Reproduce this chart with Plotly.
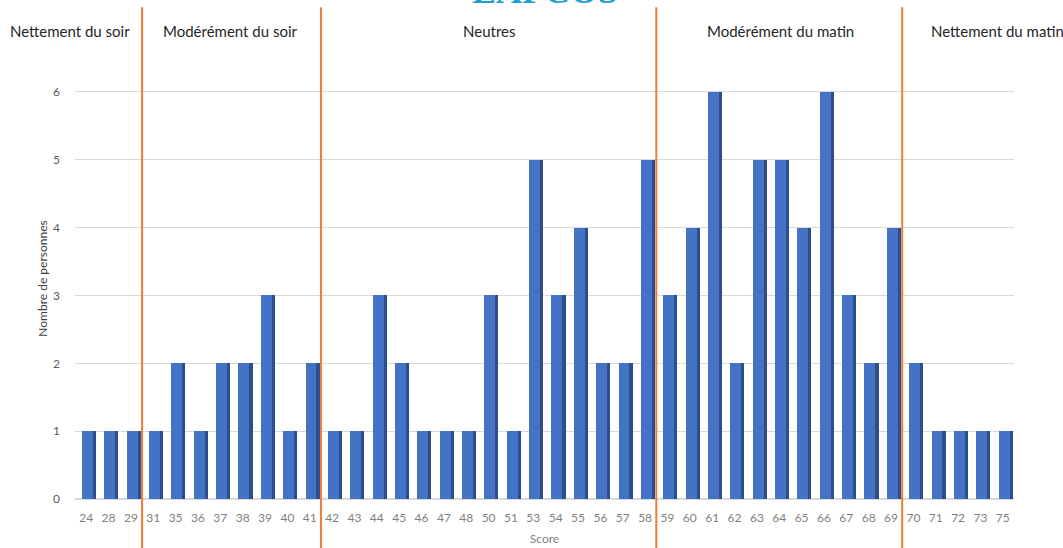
import plotly.graph_objects as go

# Score distribution (number of people per score)
scores = [24, 28, 29, 31, 35, 36, 37, 38, 39, 40, 41, 42, 43, 44, 45, 46, 47, 48, 50, 51,
          53, 54, 55, 56, 57, 58, 59, 60, 61, 62, 63, 64, 65, 66, 67, 68, 69, 70, 71, 72, 73, 75]
counts = [1, 1, 1, 1, 2, 1, 2, 2, 3, 1, 2, 1, 1, 3, 2, 1, 1, 1, 3, 1,
          5, 3, 4, 2, 2, 5, 3, 4, 6, 2, 5, 5, 4, 6, 3, 2, 4, 2, 1, 1, 1, 1]

# Chronotype groups: label and the first score of each group
groups = ["Nettement du soir", "Modérément du soir", "Neutres",
          "Modérément du matin", "Nettement du matin"]
group_starts = [24, 31, 42, 59, 70]

pos = list(range(len(scores)))
labels = [str(s) for s in scores]

FRONT = "#4472C4"
SIDE = "#2B4E8C"

fig = go.Figure()
# side face of the 3D columns
fig.add_trace(go.Bar(x=pos, y=counts, width=0.14, offset=0.30,
                     marker=dict(color=SIDE, line=dict(width=0)),
                     hoverinfo="skip", showlegend=False))
# front face
fig.add_trace(go.Bar(x=pos, y=counts, width=0.49, offset=-0.19,
                     marker=dict(color=FRONT, line=dict(width=0)),
                     showlegend=False))

# group separators
starts_idx = [scores.index(s) for s in group_starts]
for idx in starts_idx[1:]:
    fig.add_shape(type="line", xref="x", yref="paper",
                  x0=idx - 0.5, x1=idx - 0.5, y0=-0.12, y1=1.115,
                  line=dict(color="#ED7D31", width=2))

# group labels above the plot
label_x = [-0.005, 0.166, 0.441, 0.751, 0.982]
for name, lx in zip(groups, label_x):
    fig.add_annotation(x=lx, y=1.062, xref="paper", yref="paper", text=name,
                       showarrow=False, xanchor="center", yanchor="middle",
                       font=dict(family="Lato, sans-serif", size=15, color="#262626"))

# chart title, partly above the page edge
fig.add_annotation(x=0.5, y=1.102, xref="paper", yref="paper", text="<b>EAPCOS</b>",
                   showarrow=False, xanchor="center", yanchor="bottom",
                   font=dict(family="Liberation Serif, serif", size=36, color="#1E9FD0"))

fig.update_layout(
    width=1063, height=548,
    margin=dict(l=75, r=49, t=58, b=49),
    plot_bgcolor="white", paper_bgcolor="white",
    barmode="overlay",
    bargap=0,
    font=dict(family="Lato, sans-serif", color="#595959"),
    xaxis=dict(range=[-0.5, len(scores) - 0.5], tickmode="array", tickvals=pos,
               ticktext=labels, showgrid=False, zeroline=False, showline=False,
               automargin=False,
               ticks="", ticklabelstandoff=10, tickfont=dict(size=12, color="#7F7F7F"),
               title=dict(text="Score", font=dict(size=12, color="#7F7F7F"), standoff=10)),
    yaxis=dict(range=[0, 6.5], tickvals=[0, 1, 2, 3, 4, 5, 6], showgrid=True,
               gridcolor="#D9D9D9", gridwidth=1, zeroline=True, zerolinecolor="#D9D9D9",
               showline=False, ticks="", ticklabelstandoff=14, automargin=False,
               tickfont=dict(size=12, color="#595959"),
               title=dict(text="Nombre de personnes", font=dict(size=12, color="#404040"),
                          standoff=2)),
)

fig.write_html("out.html")
